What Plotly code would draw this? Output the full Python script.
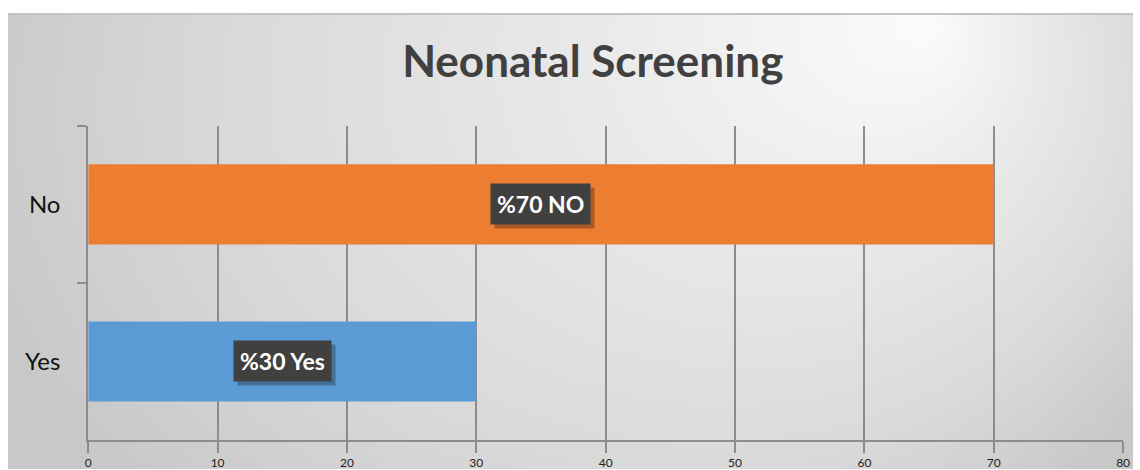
import base64
import plotly.graph_objects as go

# data
categories = ["No", "Yes"]
percent = [70, 30]
bar_colors = ["#ED7D31", "#5B9BD5"]
label_texts = ["%70 NO", "%30 Yes"]
x_ticks = [0, 10, 20, 30, 40, 50, 60, 70, 80]

W, H = 1140, 470
# plot area in pixels
L, R, T, B = 86, 1130, 126, 441
# grey chart panel origin
CX, CY = 5, 13
GRID = "#8c8c8c"
FONT = "Lato"

# soft grey radial background like the office chart style
cw, ch = W - CX, H - CY
svg = f"""<svg xmlns="http://www.w3.org/2000/svg" width="{cw}" height="{ch}" viewBox="0 0 {cw} {ch}">
<defs>
<radialGradient id="g" gradientUnits="userSpaceOnUse" cx="595" cy="110" r="655" fx="930" fy="-15"
 gradientTransform="translate(595 110) scale(1 0.8) translate(-595 -110)">
<stop offset="0" stop-color="#fbfbfb"/>
<stop offset="0.35" stop-color="#e9e9e9"/>
<stop offset="0.7" stop-color="#dadada"/>
<stop offset="1" stop-color="#c8c8c8"/>
</radialGradient>
</defs>
<rect x="0" y="0" width="{cw}" height="{ch}" fill="url(#g)"/>
<line x1="0" y1="1" x2="{cw}" y2="1" stroke="#c4c4c4" stroke-width="2"/>
</svg>"""
bg_uri = "data:image/svg+xml;base64," + base64.b64encode(svg.encode()).decode()

fig = go.Figure()
fig.add_trace(go.Bar(
    x=percent, y=categories, orientation="h",
    marker=dict(color=bar_colors, line=dict(width=0)),
    hoverinfo="skip",
))

# boxed data labels with a small drop shadow
for cat, val, txt in zip(categories, percent, label_texts):
    fig.add_annotation(
        x=val / 2, y=cat, text=txt, showarrow=False,
        font=dict(family=FONT, size=23, color="rgba(0,0,0,0)", weight=700),
        bgcolor="rgba(0,0,0,0.28)", borderpad=6, xshift=4, yshift=-4,
    )
    fig.add_annotation(
        x=val / 2, y=cat, text=txt, showarrow=False,
        font=dict(family=FONT, size=23, color="#ffffff", weight=700),
        bgcolor="#404040", borderpad=6,
    )

fig.add_layout_image(
    source=bg_uri, xref="paper", yref="paper",
    x=CX / W, y=1 - CY / H, sizex=cw / W, sizey=ch / H,
    xanchor="left", yanchor="top", sizing="stretch", layer="below",
)

fig.update_layout(
    width=W, height=H,
    margin=dict(l=0, r=0, t=0, b=0),
    paper_bgcolor="#ffffff",
    plot_bgcolor="rgba(0,0,0,0)",
    showlegend=False,
    bargap=0.49,
    title=dict(
        text="Neonatal Screening",
        font=dict(family=FONT, size=44, color="#404040", weight=700),
        x=595 / W, xanchor="center", xref="paper",
        y=1 - 62 / H, yanchor="middle", yref="paper",
    ),
    xaxis=dict(
        domain=[L / W, R / W], range=[0, 80],
        tickvals=x_ticks, showgrid=True, gridcolor=GRID, gridwidth=1.5,
        zeroline=False, showline=True, linecolor=GRID, linewidth=2,
        ticks="outside", ticklen=11, tickcolor=GRID, tickwidth=1.5,
        ticklabelstandoff=0,
        # the axis numbers sit at the very bottom edge, kept inside the page
        tickfont=dict(family=FONT, size=12, color="#222222"),
    ),
    yaxis=dict(
        domain=[1 - B / H, 1 - T / H],
        type="category", autorange="reversed",
        showgrid=False, zeroline=False, showline=True, linecolor=GRID, linewidth=2,
        ticks="outside", tickson="boundaries", ticklen=9, tickcolor=GRID, tickwidth=1.5,
        ticklabelstandoff=21,
        tickfont=dict(family=FONT, size=24, color="#111111"),
    ),
)

# no body margin and no scrollbars, so the figure fills the window exactly
post = (
    "document.documentElement.style.overflow='hidden';"
    "document.body.style.margin='0';"
    "document.body.style.overflow='hidden';"
)
fig.write_html("out.html", post_script=post, config={"displayModeBar": False})
